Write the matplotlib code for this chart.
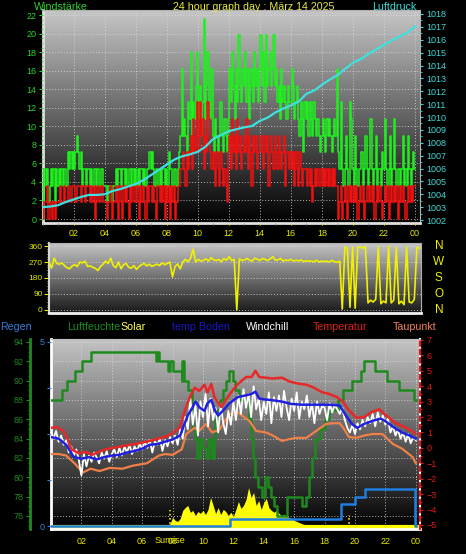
import numpy as np
import matplotlib
matplotlib.use('Agg')
import matplotlib.pyplot as plt
import matplotlib.transforms as mtransforms
from matplotlib.colors import LinearSegmentedColormap
from matplotlib.ticker import MultipleLocator, FixedLocator

plt.rcParams['font.family'] = ['Liberation Sans', 'DejaVu Sans']

W, H = 466, 554

# x tick labels (hours)
hour_ticks = [2, 4, 6, 8, 10, 12, 14, 16, 18, 20, 22, 24]
hour_labels = ['02', '04', '06', '08', '10', '12', '14', '16', '18', '20', '22', '00']

# wind, 5 minute values, in steps of 0.5 m/s (1.8 km/h)
gust_steps = [
    3, 1, 3, 2, 3, 1, 2, 3, 2, 3, 1, 3,
    2, 3, 2, 3, 2, 3, 3, 2, 4, 3, 4, 3,
    4, 3, 4, 5, 4, 3, 4, 2, 3, 3, 2, 3,
    3, 2, 3, 2, 3, 3, 2, 3, 2, 2, 3, 2,
    2, 2, 1, 2, 2, 2, 1, 2, 2, 3, 2, 3,
    3, 2, 3, 3, 2, 3, 2, 3, 3, 2, 3, 2,
    3, 2, 3, 2, 3, 3, 2, 3, 2, 3, 3, 4,
    3, 4, 3, 2, 3, 3, 2, 3, 2, 3, 3, 2,
    3, 2, 4, 3, 3, 2, 3, 3, 2, 3, 4, 5,
    9, 5, 6, 5, 4, 7, 6, 10, 5, 7, 6, 8,
    10, 6, 8, 5, 7, 12, 6, 8, 10, 7, 6, 9,
    5, 4, 6, 5, 4, 5, 7, 5, 4, 6, 5, 4,
    6, 9, 7, 10, 8, 6, 9, 7, 11, 8, 7, 9,
    8, 10, 7, 9, 6, 8, 9, 7, 10, 8, 9, 7,
    9, 11, 8, 10, 7, 11, 8, 9, 10, 8, 9, 11,
    8, 9, 7, 8, 6, 9, 7, 8, 7, 6, 8, 7,
    7, 9, 8, 6, 7, 8, 6, 5, 7, 6, 4, 7,
    6, 7, 5, 7, 6, 5, 7, 6, 5, 6, 5, 4,
    5, 6, 5, 4, 6, 5, 6, 5, 4, 5, 6, 5,
    9, 4, 3, 7, 3, 2, 3, 5, 3, 2, 7, 6,
    3, 2, 5, 3, 2, 3, 3, 4, 2, 3, 5, 3,
    2, 3, 6, 3, 2, 3, 5, 2, 3, 3, 2, 4,
    3, 6, 3, 2, 3, 5, 2, 3, 6, 3, 2, 3,
    3, 2, 3, 5, 2, 3, 2, 5, 3, 2, 3, 4,
    3]
avg_steps = [
    1, 0, 1, 1, 2, 0, 1, 1, 0, 1, 0, 1,
    1, 1, 2, 1, 1, 2, 1, 1, 2, 2, 1, 2,
    2, 2, 1, 2, 2, 2, 1, 2, 2, 1, 2, 2,
    2, 1, 2, 1, 2, 0, 1, 2, 1, 1, 2, 1,
    1, 1, 0, 1, 1, 2, 0, 1, 1, 2, 1, 0,
    2, 1, 0, 2, 1, 2, 1, 0, 2, 1, 2, 1,
    1, 2, 1, 0, 2, 1, 2, 1, 0, 2, 1, 2,
    2, 1, 2, 1, 0, 2, 2, 1, 2, 1, 2, 0,
    2, 1, 2, 0, 2, 1, 2, 0, 1, 2, 2, 3,
    3, 4, 3, 2, 4, 3, 4, 5, 3, 6, 4, 5,
    7, 4, 7, 5, 6, 3, 5, 4, 7, 6, 4, 3,
    4, 3, 2, 4, 3, 2, 4, 3, 2, 3, 2, 1,
    4, 5, 3, 6, 4, 5, 3, 6, 4, 5, 3, 4,
    5, 4, 6, 3, 5, 4, 2, 5, 4, 5, 3, 4,
    4, 5, 4, 3, 5, 4, 5, 2, 4, 5, 4, 3,
    5, 4, 3, 5, 4, 3, 4, 5, 2, 4, 4, 3,
    4, 3, 4, 2, 4, 3, 2, 4, 3, 2, 3, 3,
    3, 2, 3, 2, 3, 1, 2, 3, 2, 3, 2, 2,
    3, 2, 3, 2, 3, 2, 3, 2, 3, 2, 3, 2,
    2, 0, 1, 2, 0, 1, 2, 1, 0, 2, 1, 2,
    1, 2, 1, 2, 0, 1, 2, 1, 2, 0, 1, 2,
    2, 1, 2, 1, 2, 0, 1, 2, 1, 2, 1, 0,
    1, 2, 1, 2, 0, 1, 2, 1, 2, 1, 2, 0,
    1, 2, 1, 2, 1, 0, 1, 2, 1, 2, 1, 2,
    2]

# pressure, half hourly (hPa)
pressure = [
    1003.0, 1003.05, 1003.15, 1003.4, 1003.6, 1003.8, 1003.95, 1003.95,
    1004.0, 1004.25, 1004.4, 1004.6, 1004.8, 1005.1, 1005.5, 1005.9,
    1006.3, 1006.7, 1006.95, 1007.1, 1007.3, 1007.7, 1008.3, 1008.6,
    1008.9, 1009.05, 1009.2, 1009.3, 1009.7, 1009.95, 1010.35, 1010.65,
    1010.9, 1011.2, 1011.8, 1012.05, 1012.5, 1012.9, 1013.25, 1013.75,
    1014.2, 1014.5, 1014.9, 1015.25, 1015.6, 1015.95, 1016.25, 1016.55,
    1017.05]

# wind direction, 10 minute values (degrees)
wind_dir = [
    270, 236, 292, 262, 258, 265,
    250, 238, 232, 248, 255, 245,
    270, 265, 275, 245, 248, 240,
    235, 222, 245, 258, 275, 262,
    292, 250, 238, 270, 232, 255,
    262, 240, 235, 250, 228, 245,
    255, 262, 248, 258, 245, 252,
    258, 250, 265, 255, 262, 270,
    186, 245, 258, 232, 270, 285,
    272, 290, 343, 270, 285, 275,
    280, 288, 275, 295, 282, 278,
    285, 272, 290, 280, 300, 278,
    285, 0, 288, 278, 282, 290,
    280, 275, 292, 285, 278, 290,
    285, 278, 288, 300, 280, 282,
    290, 275, 282, 278, 285, 275,
    280, 276, 282, 272, 278, 275,
    275, 272, 280, 270, 276, 272,
    275, 270, 280, 272, 268, 276,
    5, 354, 348, 15, 356, 10,
    352, 356, 348, 354, 40, 55,
    45, 60, 355, 35, 50, 40,
    358, 40, 55, 352, 35, 50,
    30, 355, 45, 40, 60, 352,
    348]

# windchill, 10 minute values (C)
windchill = [
    1.0, 0.6, 1.1, 0.4, 0.8, 0.2,
    0.5, -0.3, 0.1, -0.5, -0.1, -0.8,
    -1.8, -0.4, -1.2, -0.5, -0.9, -0.3,
    -0.6, -1.0, -0.3, -0.7, -0.2, -0.9,
    -0.4, -0.1, -0.6, 0.0, -0.5, 0.1,
    -0.3, 0.2, -0.4, 0.1, -0.2, 0.3,
    -0.1, 0.4, 0.0, 0.5, -0.3, 0.4,
    0.2, 0.6, -0.2, 0.5, 0.1, 0.7,
    0.3, 0.8, 0.2, 1.2, 0.6, 2.0,
    1.2, 3.2, 1.5, 2.8, 0.8, 3.0,
    2.0, 3.5, 1.4, 3.2, 1.8, 2.6,
    1.0, 2.8, 1.6, 0.9, 2.4, 1.5,
    3.0, 1.8, 3.4, 2.2, 3.8, 2.6,
    3.5, 2.0, 4.0, 2.5, 3.2, 1.8,
    3.0, 2.2, 3.6, 1.6, 3.3, 2.4,
    3.4, 2.0, 3.7, 2.6, 1.8, 3.2,
    2.4, 3.6, 1.9, 3.0, 2.5, 3.4,
    2.0, 2.9, 1.6, 3.0, 2.2, 2.7,
    2.6, 1.8, 2.9, 2.3, 2.8, 2.5,
    2.2, 2.6, 1.8, 1.3, 1.0, 1.5,
    0.9, 1.6, 1.2, 1.8, 1.4, 2.0,
    1.6, 2.2, 1.4, 2.3, 1.7, 2.1,
    1.5, 1.9, 1.0, 1.4, 0.8, 1.2,
    0.6, 1.0, 0.4, 0.9, 0.3, 0.7,
    0.5]

# temperature (C)
temp_t = [0.0, 0.4, 0.8, 1.0, 1.35, 1.85, 2.3, 2.7, 3.4, 4.05, 4.95, 5.8, 6.7,
          7.6, 8.0, 8.45, 8.8, 9.1, 9.45, 9.76, 10.1, 10.3, 10.55, 10.75, 10.95,
          11.2, 11.5, 11.85, 12.25, 12.85, 13.2, 13.45, 13.7, 14.55, 15.2, 15.7,
          16.35, 16.8, 17.3, 17.85, 18.3, 18.8, 19.2, 19.6, 20.1, 20.6, 21.15,
          21.6, 22.05, 22.7, 23.35, 23.9, 24.0]
temp_v = [1.3, 1.35, 1.1, 0.8, -0.1, -0.35, -0.25, -0.45, -0.15, 0.0, 0.15, 0.3, 0.5,
          0.75, 0.95, 1.3, 2.4, 3.2, 3.9, 3.7, 4.1, 3.6, 4.15, 3.3, 3.0,
          2.65, 3.1, 3.6, 4.1, 4.6, 4.6, 5.0, 4.6, 4.5, 4.55, 4.3,
          4.15, 4.1, 3.9, 3.6, 3.5, 3.3, 3.0, 2.45, 1.95, 2.0, 2.35,
          2.5, 2.1, 1.6, 1.3, 1.0, 0.9]

# temp Boden (C)
soil_t = [0.0, 0.5, 1.0, 1.5, 2.0, 2.5, 3.0, 3.5, 4.0, 4.5, 5.0, 5.5, 6.0, 6.5,
          7.0, 7.5, 8.0, 8.5, 8.8, 9.0, 9.3, 9.5, 9.8, 10.1, 10.3, 10.55, 10.8,
          11.0, 11.3, 11.75, 12.3, 12.8, 13.2, 13.45, 13.7, 14.0, 14.5, 15.2,
          15.8, 16.5, 17.5, 18.3, 19.0, 19.4, 19.8, 20.15, 20.6, 21.15, 21.7,
          22.05, 22.6, 23.1, 23.6, 24.0]
soil_v = [0.7, 0.6, 0.2, -0.6, -0.7, -0.6, -0.75, -0.6, -0.5, -0.45, -0.3, -0.2,
          -0.05, 0.2, 0.25, 0.4, 0.55, 0.8, 1.6, 2.1, 2.6, 3.0, 2.6, 2.4, 2.9,
          3.1, 2.4, 2.1, 2.4, 2.9, 3.3, 3.4, 3.5, 3.65, 3.2, 3.15, 3.1, 3.0,
          2.85, 2.8, 2.8, 2.8, 2.75, 2.1, 1.55, 1.3, 1.55, 1.75, 1.9,
          1.7, 1.3, 1.0, 0.8, 0.6]

# Taupunkt (C)
dew_t = [0.0, 0.5, 1.0, 1.6, 2.1, 2.6, 3.2, 3.85, 4.7, 5.4, 6.3, 7.1, 7.5, 8.0,
         8.6, 8.9, 9.45, 9.75, 10.2, 10.6, 11.1, 11.75, 12.3, 12.7, 13.05, 13.5,
         14.15, 14.6, 15.2, 15.6, 16.1, 16.8, 17.45, 18.1, 18.6, 19.0, 19.3,
         19.6, 20.1, 20.6, 21.15, 21.8, 22.5, 23.1, 23.8, 24.0]
dew_v = [-0.4, -0.4, -0.5, -1.05, -1.6, -1.35, -1.5, -1.3, -1.35, -1.15, -1.0,
         -0.5, -0.4, -0.45, -0.1, 0.9, 1.3, 1.1, 1.55, 1.0, 1.2, 2.2, 2.3, 2.0,
         1.75, 1.1, 1.0, 0.8, 0.45, 0.55, 0.65, 0.65, 1.1, 1.55, 1.6, 1.6, 1.2,
         0.7, 0.65, 0.8, 0.9, 0.9, 0.25, -0.05, -0.6, -1.0]

# Luftfeuchte (%)
hum_t = [0.0, 0.75, 1.07, 1.6, 2.05, 2.6, 6.9, 7.0, 7.1, 7.7, 7.8, 8.0, 8.6, 8.65,
         8.75, 9.0, 9.25, 9.35, 9.45, 9.6, 9.8, 10.0, 10.2, 10.4, 10.6, 10.7,
         10.8, 10.9, 11.1, 11.3, 11.5, 11.7, 11.95, 12.1, 12.4, 13.05, 13.15,
         13.3, 13.4, 13.6, 13.9, 14.05, 14.3, 14.5, 14.7, 14.9, 15.5, 16.5,
         16.8, 17.0, 17.2, 17.4, 17.7, 18.0, 18.3, 18.9, 19.2, 19.8, 20.4, 20.6,
         21.3, 22.1, 22.9, 23.9, 24.0]
hum_v = [88, 89, 90, 91, 92, 93, 92, 93, 92, 91, 92, 91, 90, 92,
         90, 89, 87, 85, 84, 82, 84, 83, 82, 84, 82, 84,
         86, 87, 88, 89, 90, 91, 90, 89, 88, 86, 84,
         82, 80, 79, 78, 80, 79, 78, 77, 76, 78, 77,
         78, 80, 82, 84, 85, 86, 87, 88, 89, 90, 91, 92,
         91, 90, 89, 88, 88]

# Regen (mm)
rain_t = [0.0, 11.75, 19.05, 20.0, 20.65, 23.97, 24.0]
rain_v = [0.0, 0.2, 0.6, 0.8, 1.0, 0.0, 0.0]

# Solar (W/m2), 10 minute values from 07:30
solar = [3, 10, 20, 53, 37, 32, 47, 90, 105, 116, 80, 90, 63, 84, 74, 90,
         68, 95, 158, 116, 74, 105, 68, 95, 84, 63, 80, 58, 95, 137, 100,
         116, 147, 210, 158, 184, 116, 142, 95, 132, 153, 105, 90, 80, 90,
         74, 63, 68, 58, 53, 47, 37, 32, 26, 20, 16, 10, 5, 3, 0]

sunrise, sunset = 7.85, 19.63

t5 = np.arange(len(gust_steps)) / 12.0
t10 = np.arange(len(wind_dir)) / 6.0
t30 = np.arange(len(pressure)) / 2.0
solar_t = 7.5 + np.arange(len(solar)) / 6.0
gust = np.array(gust_steps) * 1.8
avg = np.array(avg_steps) * 1.8

fig = plt.figure(figsize=(W / 100, H / 100), dpi=100, facecolor='black')


def px_axes(left, top, right, bottom):
    return fig.add_axes([left / W, 1 - bottom / H, (right - left) / W, (bottom - top) / H])


def background(ax, top, bottom):
    cmap = LinearSegmentedColormap.from_list('bg', [bottom, top])
    grad = np.linspace(0, 1, 256).reshape(-1, 1)
    ax.imshow(grad, cmap=cmap, aspect='auto', extent=[0, 1, 0, 1], origin='lower',
              transform=ax.transAxes, zorder=0, interpolation='bilinear')


def spines(ax, **kw):
    for name, sp in ax.spines.items():
        if name in kw:
            color, lw = kw[name]
            sp.set_visible(True)
            sp.set_color(color)
            sp.set_linewidth(lw)
        else:
            sp.set_visible(False)


grid_kw = dict(color='#dcdcdc', linestyle=(0, (1, 2)), linewidth=0.7, alpha=0.8)

# ---------- panel 1: wind speed + pressure ----------
ax1 = px_axes(42.5, 10, 420, 223)
background(ax1, '#c6c6c6', '#000000')
ax1.step(t5, gust, where='mid', color='#1ef01e', lw=1.1, zorder=3)
ax1.step(t5, avg, where='mid', color='#f01010', lw=1.1, zorder=4)
ax1.set_xlim(0, 24.32)
ax1.set_ylim(-0.43, 22.55)
ax1.set_xticks(hour_ticks)
ax1.set_xticklabels(hour_labels)
ax1.xaxis.set_minor_locator(MultipleLocator(1))
ax1.set_yticks(range(0, 23, 2))
ax1.yaxis.set_minor_locator(MultipleLocator(0.5))
ax1.grid(True, which='major', **grid_kw)
ax1.set_axisbelow(False)
ax1.tick_params(axis='y', which='major', colors='#2ed02e', labelsize=6.5, length=3, width=0.8, pad=1.5)
ax1.tick_params(axis='y', which='minor', colors='#2ed02e', length=1.5, width=0.6)
ax1.tick_params(axis='x', which='major', colors='#e8e800', labelsize=6.5, length=1.5, pad=3)
ax1.tick_params(axis='x', which='minor', colors='#909090', length=1.5)
spines(ax1, left=('#e0e0e0', 2), bottom=('#e0e0e0', 2), top=('#b0b0b0', 0.8), right=('#b0b0b0', 0.8))

ax1p = ax1.twinx()
ax1p.plot(t30, pressure, color='#3fe0e0', lw=1.6)
ax1p.set_ylim(1001.77, 1018.31)
ax1p.set_yticks(range(1002, 1019))
ax1p.yaxis.set_minor_locator(MultipleLocator(0.5))
ax1p.tick_params(axis='y', which='major', colors='#40d8d8', labelsize=6.5, length=2.5, width=0.8, pad=2)
ax1p.tick_params(axis='y', which='minor', colors='#40d8d8', length=1.2)
spines(ax1p)

# ---------- panel 2: wind direction ----------
ax2 = px_axes(49, 243, 421, 313)
background(ax2, '#c8c8c8', '#181818')
ax2.plot(t10, wind_dir, color='#f0f000', lw=1.2, zorder=3)
ax2.set_xlim(0, 24.1)
ax2.set_ylim(-17, 377)
ax2.set_xticks([])
ax2.set_yticks([0, 90, 180, 270, 360])
ax2.yaxis.set_minor_locator(MultipleLocator(15))
ax2.grid(True, axis='y', **grid_kw)
ax2.tick_params(axis='y', which='major', colors='#e8e800', labelsize=6, length=3.5, width=0.8, pad=1)
ax2.tick_params(axis='y', which='minor', colors='#e8e800', length=1.5, width=0.6)
spines(ax2, left=('#d8d8d8', 1.5), bottom=('#f0f0f0', 2), top=('#b0b0b0', 0.8), right=('#b0b0b0', 0.8))
compass = mtransforms.blended_transform_factory(ax2.transAxes, ax2.transData)
for deg, letter in zip([360, 270, 180, 90, 0], ['N', 'W', 'S', 'O', 'N']):
    ax2.text(1.048, deg, letter, transform=compass, color='#f0f000', fontsize=8.5,
             ha='center', va='center')

# ---------- panel 3: temperatures, humidity, rain, solar ----------
ax3 = px_axes(51, 339, 420, 529)
background(ax3, '#c4c4c4', '#000000')
ax3.fill_between(solar_t, solar, 0, color='#ffff00', lw=0, zorder=2)
ax3.axhline(0, color='#ffff00', lw=3, zorder=2)
ax3.axvline(sunrise, ymin=0.005, ymax=0.1, color='#e8e800', lw=1.2, ls=(0, (1, 1.5)), zorder=3)
ax3.axvline(sunset, ymin=0.005, ymax=0.075, color='#e8e800', lw=1.2, ls=(0, (1, 1.5)), zorder=3)
ax3.set_xlim(0, 24.28)
ax3.set_ylim(-8, 992)
ax3.set_yticks([])
ax3.set_xticks(hour_ticks)
ax3.set_xticklabels(hour_labels)
ax3.grid(True, axis='x', **grid_kw)
ax3.tick_params(axis='x', colors='#e8e800', labelsize=6.5, length=0, pad=5.5)
# sunrise marker label sits over the 08 label, as in the station graph
ax3.text(sunrise, -7.0 / 190, 'Sunrise', transform=mtransforms.blended_transform_factory(ax3.transData, ax3.transAxes),
         color='#e8e800', fontsize=6.5, ha='center', va='top')
spines(ax3, left=('#ffffff', 2), bottom=('#ffffff', 2), top=('#c0c0c0', 0.8), right=('#ffffff', 1.5))

ax3h = ax3.twinx()
ax3h.step(hum_t, hum_v, where='post', color='#1e8a1e', lw=1.8)
ax3h.set_ylim(74.65, 94.31)
ax3h.yaxis.set_ticks_position('left')
ax3h.set_yticks(range(76, 95, 2))
ax3h.yaxis.set_minor_locator(MultipleLocator(0.5))
ax3h.grid(True, axis='y', **grid_kw)
ax3h.tick_params(axis='y', which='major', colors='#1f8a1f', labelsize=6.5, length=3, width=0.8, pad=1.5)
ax3h.tick_params(axis='y', which='minor', colors='#1f8a1f', length=1.5, width=0.6)
spines(ax3h, left=('#1f8a1f', 2))
ax3h.spines['left'].set_position(('outward', 15))

ax3r = ax3.twinx()
ax3r.step(rain_t, rain_v, where='post', color='#1f7ee0', lw=1.8)
ax3r.set_ylim(-0.08, 5.08)
ax3r.yaxis.set_ticks_position('left')
ax3r.set_yticks([0, 5])
ax3r.yaxis.set_minor_locator(FixedLocator([1.25, 2.5, 3.75]))
ax3r.tick_params(axis='y', which='major', colors='#3a80d8', labelsize=6.5, length=3, width=0.8, pad=1.5)
ax3r.tick_params(axis='y', which='minor', colors='#3a80d8', length=3, width=0.8)
spines(ax3r)

ax3t = ax3.twinx()
ax3t.plot(dew_t, dew_v, color='#f08048', lw=1.6, zorder=1)
ax3t.plot(t10, windchill, color='#ffffff', lw=1.3, zorder=2)
ax3t.plot(soil_t, soil_v, color='#2020e0', lw=1.8, zorder=3)
ax3t.plot(temp_t, temp_v, color='#e82828', lw=1.8, zorder=4)
ax3t.set_ylim(-5.26, 7.06)
ax3t.set_yticks(range(-5, 8))
ax3t.yaxis.set_minor_locator(MultipleLocator(0.5))
ax3t.tick_params(axis='y', which='major', colors='#e01818', labelsize=6.5, length=2.5, width=0.8, pad=2.5)
ax3t.tick_params(axis='y', which='minor', colors='#e01818', length=1.2, width=0.6)
spines(ax3t, right=('#e01818', 1.5))
ax3t.spines['right'].set_linestyle((0, (2, 2)))


# ---------- titles and legend texts ----------
def ftext(x, y, s, color, size=7.7):
    fig.text(x / W, 1 - y / H, s, color=color, fontsize=size, ha='left', va='baseline')


ftext(34, 10.5, 'Windstärke', '#30d030')
ftext(173, 10.5, '24 hour graph day : März 14 2025', '#e8e840')
ftext(372, 10.5, 'Luftdruck', '#40d8d8')

ftext(0, 330, 'Regen', '#3a7ad8')
ftext(67, 330, 'Luftfeuchte', '#1e8c1e')
ftext(120, 330, 'Solar', '#ffff50')
ftext(172, 330, 'temp Boden', '#1818c8')
ftext(246, 330, 'Windchill', '#ffffff')
ftext(313, 330, 'Temperatur', '#e02020')
ftext(393, 330, 'Taupunkt', '#f08060')

fig.savefig('out.png', dpi=100, facecolor='black')
plt.close(fig)
